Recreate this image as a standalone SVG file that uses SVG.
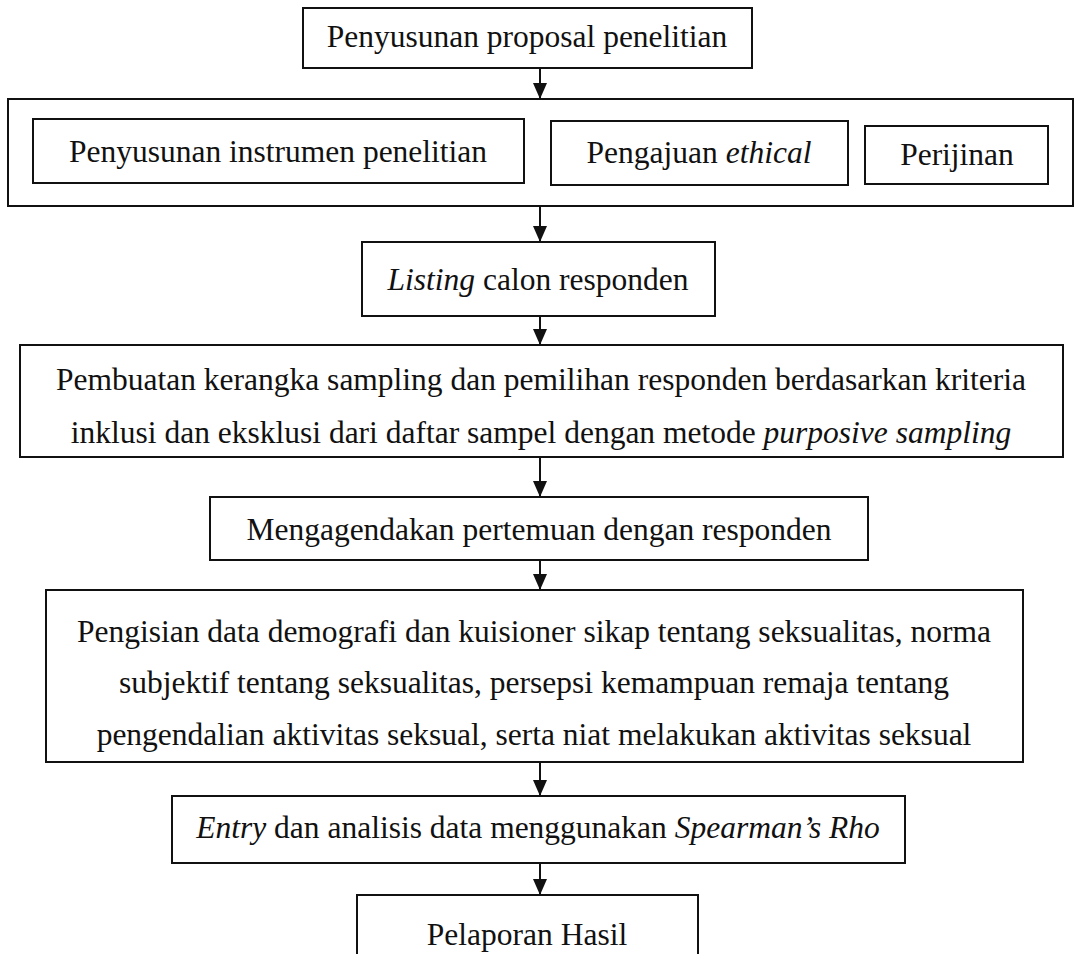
<svg xmlns="http://www.w3.org/2000/svg" width="1079" height="954" viewBox="0 0 1079 954">
  <defs>
    <style>
      .box { fill: #fff; stroke: #111; stroke-width: 2; }
      .lbl { font-family: "Liberation Serif", "Times New Roman", serif; font-size: 31.5px; fill: #111; text-anchor: middle; }
      .it { font-style: italic; }
      .link { stroke: #111; stroke-width: 2; fill: none; marker-end: url(#arrow); }
    </style>
    <marker id="arrow" viewBox="0 0 16 14" refX="16" refY="7" markerWidth="16" markerHeight="14" markerUnits="userSpaceOnUse" orient="auto">
      <path d="M0,0 L16,7 L0,14 Z" fill="#111"/>
    </marker>
  </defs>
  <rect width="1079" height="954" fill="#fff"/>

  <g id="connectors">
    <line class="link" x1="540" y1="68" x2="540" y2="99"/>
    <line class="link" x1="540" y1="206" x2="540" y2="242"/>
    <line class="link" x1="540" y1="316" x2="540" y2="345"/>
    <line class="link" x1="540" y1="457" x2="540" y2="497"/>
    <line class="link" x1="540" y1="560" x2="540" y2="590"/>
    <line class="link" x1="540" y1="762" x2="540" y2="796"/>
    <line class="link" x1="540" y1="863" x2="540" y2="895"/>
  </g>

  <g id="proposal">
    <rect class="box" x="303" y="8" width="449" height="60"/>
    <text class="lbl" x="527" y="47">Penyusunan proposal penelitian</text>
  </g>

  <g id="persiapan">
    <rect class="box" x="8" y="99" width="1065" height="107"/>
    <g id="instrumen">
      <rect class="box" x="33" y="119" width="491" height="64"/>
      <text class="lbl" x="278" y="162">Penyusunan instrumen penelitian</text>
    </g>
    <g id="ethical">
      <rect class="box" x="551" y="121" width="297" height="64"/>
      <text class="lbl" x="699" y="163">Pengajuan <tspan class="it">ethical</tspan></text>
    </g>
    <g id="perijinan">
      <rect class="box" x="865" y="126" width="183" height="58"/>
      <text class="lbl" x="957" y="165">Perijinan</text>
    </g>
  </g>

  <g id="listing">
    <rect class="box" x="362" y="242" width="353" height="74"/>
    <text class="lbl" x="538" y="290"><tspan class="it">Listing</tspan> calon responden</text>
  </g>

  <g id="sampling">
    <rect class="box" x="20" y="345" width="1043" height="112"/>
    <text class="lbl" x="541" y="390">Pembuatan kerangka sampling dan pemilihan responden berdasarkan kriteria</text>
    <text class="lbl" x="541" y="443">inklusi dan eksklusi dari daftar sampel dengan metode <tspan class="it">purposive sampling</tspan></text>
  </g>

  <g id="pertemuan">
    <rect class="box" x="210" y="497" width="658" height="63"/>
    <text class="lbl" x="539" y="540">Mengagendakan pertemuan dengan responden</text>
  </g>

  <g id="pengisian">
    <rect class="box" x="46" y="590" width="977" height="172"/>
    <text class="lbl" x="534" y="642">Pengisian data demografi dan kuisioner sikap tentang seksualitas, norma</text>
    <text class="lbl" x="534" y="693">subjektif tentang seksualitas, persepsi kemampuan remaja tentang</text>
    <text class="lbl" x="534" y="745">pengendalian aktivitas seksual, serta niat melakukan aktivitas seksual</text>
  </g>

  <g id="analisis">
    <rect class="box" x="172" y="796" width="733" height="67"/>
    <text class="lbl" x="538" y="838"><tspan class="it">Entry</tspan> dan analisis data menggunakan <tspan class="it">Spearman’s Rho</tspan></text>
  </g>

  <g id="pelaporan">
    <rect class="box" x="357" y="895" width="341" height="70"/>
    <text class="lbl" x="527" y="945">Pelaporan Hasil</text>
  </g>
</svg>
